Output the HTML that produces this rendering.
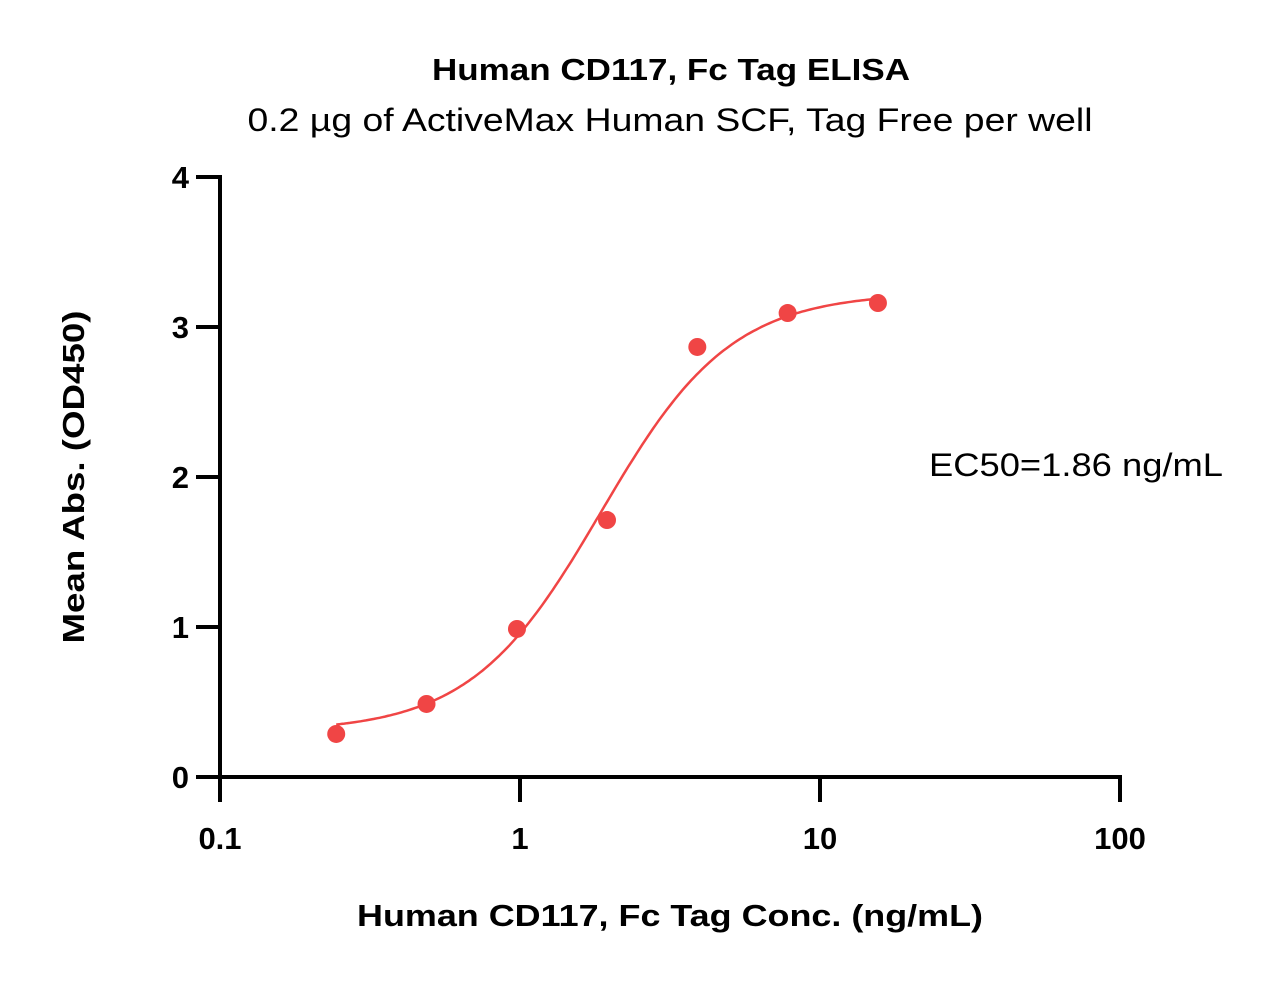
<!DOCTYPE html>
<html><head><meta charset="utf-8"><style>body{margin:0;background:#fff}svg{display:block;font-family:"Liberation Sans",sans-serif}</style></head>
<body>
<svg width="1268" height="981">
<text x="671" y="80" text-anchor="middle" font-size="31" font-weight="bold" textLength="478" lengthAdjust="spacingAndGlyphs">Human CD117, Fc Tag ELISA</text>
<text x="670" y="131" text-anchor="middle" font-size="32" textLength="845" lengthAdjust="spacingAndGlyphs">0.2 µg of ActiveMax Human SCF, Tag Free per well</text>
<text x="929" y="476" font-size="32" textLength="294" lengthAdjust="spacingAndGlyphs">EC50=1.86 ng/mL</text>
<text x="357" y="926" font-size="31" font-weight="bold" textLength="626" lengthAdjust="spacingAndGlyphs">Human CD117, Fc Tag Conc. (ng/mL)</text>
<text transform="translate(84,477) rotate(-90)" text-anchor="middle" font-size="31" font-weight="bold" textLength="333" lengthAdjust="spacingAndGlyphs">Mean Abs. (OD450)</text>
<g id="axes"></g>
<g id="curve"></g>
<g id="pts"></g>
</svg>
<script>
const conc=[0.244,0.488,0.977,1.95,3.9,7.8,15.6];
const od=[0.287,0.487,0.987,1.713,2.867,3.093,3.16];
const xTicks=[0.1,1,10,100];
const xTickLabels=["0.1","1","10","100"];
const yTicks=[0,1,2,3,4];
const fitBottom=0.3,fitTop=3.23,fitEC50=1.86,fitHill=2.0;
const NS="http://www.w3.org/2000/svg";
const X=v=>220+300*(Math.log10(v)+1);
const Y=v=>777-150*v;
function mk(t,a,p){const e=document.createElementNS(NS,t);for(const k in a)e.setAttribute(k,a[k]);p.appendChild(e);return e;}
const ax=document.getElementById('axes');
let l=mk('line',{x1:220,y1:175,x2:220,y2:779,stroke:'#000','stroke-width':4},ax);

l=mk('line',{x1:218,y1:777,x2:1122,y2:777,stroke:'#000','stroke-width':4},ax);

yTicks.forEach(v=>{const t=mk('line',{x1:196,y1:Y(v),x2:220,y2:Y(v),stroke:'#000','stroke-width':4},ax);

const s=mk('text',{x:189,y:Y(v)+11,'text-anchor':'end','font-size':31,'font-weight':'bold'},ax);s.textContent=v;
});
xTicks.forEach((v,i)=>{const t=mk('line',{x1:X(v),y1:777,x2:X(v),y2:802,stroke:'#000','stroke-width':4},ax);

const s=mk('text',{x:X(v),y:849,'text-anchor':'middle','font-size':31,'font-weight':'bold'},ax);s.textContent=xTickLabels[i];
});
let d='';for(let i=0;i<=200;i++){const lx=Math.log10(conc[0])+(Math.log10(conc[conc.length-1])-Math.log10(conc[0]))*i/200;const c=Math.pow(10,lx);
const y=fitBottom+(fitTop-fitBottom)/(1+Math.pow(fitEC50/c,fitHill));d+=(i?'L':'M')+X(c).toFixed(1)+','+Y(y).toFixed(1);}
const p=mk('path',{d:d,fill:'none',stroke:'#f04545','stroke-width':2.5},document.getElementById('curve'));

conc.forEach((c,i)=>{const e=mk('circle',{cx:X(c),cy:Y(od[i]),r:9,fill:'#f04545'},document.getElementById('pts'));
});
</script>
</body></html>
